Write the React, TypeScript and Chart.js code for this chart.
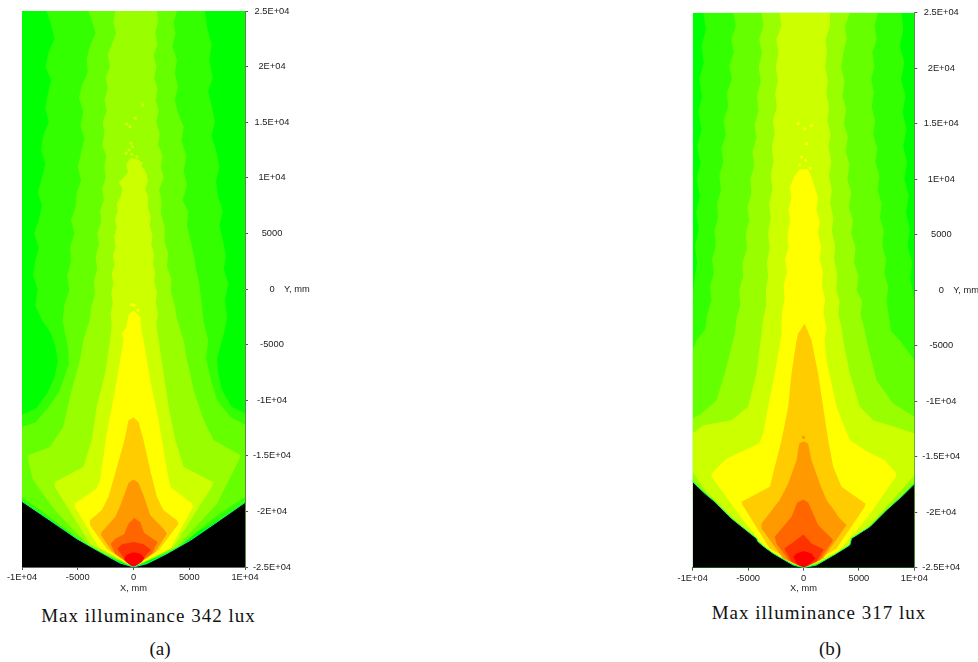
import React, { useEffect, useRef } from "react";
import { Chart, registerables } from "chart.js";

Chart.register(...registerables);

type P = [number, number];

const xTickValues = [-10000, -5000, 0, 5000, 10000];
const xTickLabels = ["-1E+04", "-5000", "0", "5000", "1E+04"];
const yTickValues = [25000, 20000, 15000, 10000, 5000, 0, -5000, -10000, -15000, -20000, -25000];
const yTickLabels = ["2.5E+04", "2E+04", "1.5E+04", "1E+04", "5000", "0", "-5000", "-1E+04", "-1.5E+04", "-2E+04", "-2.5E+04"];

const bandColors = ["#33ff00", "#66ff00", "#99ff00", "#ccff00", "#ffff00", "#ffcc00", "#ff9900", "#ff6600", "#ff3300", "#ff0000"];

const plotRect: P[] = [[-10000, 25000], [10000, 25000], [10000, -25000], [-10000, -25000]];

// Panel (a) contours, x and y in mm
const a33: P[] = [[-7800, 25000], [-7400, 23800], [-7100, 22500], [-7600, 21300], [-7900, 20000], [-7400, 18800], [-7700, 17500], [-7900, 16200], [-7600, 15000], [-8100, 13800], [-8300, 12500], [-7900, 11300], [-8200, 10000], [-8600, 8700], [-8200, 7500], [-8500, 6200], [-8900, 5000], [-8500, 3700], [-8850, 2400], [-9000, 1200], [-8600, 0], [-8800, -1500], [-8200, -2800], [-7400, -4000], [-7000, -5200], [-6800, -6500], [-7100, -8000], [-7700, -9300], [-8700, -10700], [-10000, -11300], [-10000, -19500], [0, -25000], [10000, -19500], [10000, -11200], [8800, -10600], [7900, -9000], [7600, -7500], [7500, -6200], [8100, -4000], [8400, -2500], [8200, -1000], [8500, 500], [8100, 1800], [8300, 3000], [8000, 4400], [7700, 5700], [8000, 7000], [7600, 8300], [7400, 9700], [7700, 11000], [7400, 12500], [7000, 13800], [7300, 15000], [7000, 16500], [6700, 17800], [7100, 19000], [6800, 20500], [7000, 22000], [6600, 23500], [6400, 25000]];
const a66: P[] = [[-4050, 25000], [-3700, 24000], [-3400, 23000], [-3900, 21900], [-4200, 20700], [-4100, 19500], [-4600, 18400], [-4900, 17200], [-4500, 16000], [-4750, 14700], [-4400, 13500], [-4700, 12300], [-5000, 11000], [-4700, 9800], [-5100, 8600], [-5200, 7400], [-5600, 6200], [-5300, 5000], [-5700, 3800], [-5600, 2500], [-5950, 1200], [-5750, -100], [-6200, -1400], [-6350, -2800], [-6100, -4200], [-5850, -5400], [-5800, -6800], [-6300, -8200], [-6700, -9300], [-7600, -10600], [-8800, -12000], [-10000, -12400], [-10000, -18700], [-7500, -20500], [-3900, -23350], [0, -25000], [3900, -23350], [7500, -20350], [10000, -18700], [10000, -12200], [8700, -11500], [7500, -10000], [6900, -8000], [6500, -6200], [6700, -4600], [6300, -3000], [6100, -1300], [5900, 500], [5600, 1800], [5400, 3100], [5100, 4400], [4800, 5700], [4900, 6900], [4400, 8000], [4800, 9300], [4500, 10600], [4750, 12000], [4300, 13300], [4500, 14600], [4000, 15800], [3700, 17000], [4000, 18200], [3700, 19400], [3900, 20600], [3500, 21800], [3750, 23000], [3600, 24000], [3900, 25000]];
const a99: P[] = [[-1650, 25000], [-1800, 24000], [-1560, 23000], [-1950, 22000], [-2300, 21000], [-2100, 20000], [-2500, 19000], [-2300, 18000], [-2600, 17000], [-2400, 16000], [-2750, 15000], [-2600, 14000], [-2800, 13000], [-2450, 12000], [-2600, 11000], [-2500, 10000], [-2800, 9000], [-2650, 8000], [-3000, 7000], [-2900, 6000], [-3250, 5000], [-3100, 4000], [-3400, 2900], [-3250, 1800], [-3550, 700], [-3450, -500], [-3800, -1600], [-3900, -2700], [-4500, -4600], [-4800, -6400], [-5550, -9100], [-6300, -12400], [-7500, -14200], [-9450, -14950], [-9450, -15400], [-9000, -17200], [-7050, -19900], [-3900, -23200], [0, -25000], [3900, -23200], [7500, -19300], [9450, -15400], [9600, -14950], [7200, -13600], [6300, -11800], [5400, -9100], [4800, -6400], [4500, -4600], [3900, -2700], [3700, -1500], [3350, -300], [3400, 900], [3000, 2000], [3100, 3200], [2750, 4400], [2800, 5600], [2450, 6800], [2500, 8000], [2300, 9000], [2700, 10000], [2450, 11000], [2600, 12000], [2200, 13000], [2350, 14000], [2050, 15000], [2250, 16000], [2000, 17000], [2150, 18000], [1850, 19000], [2050, 20000], [1800, 21000], [2150, 22000], [1950, 23000], [2200, 24000], [2100, 25000]];
const aCC: P[] = [[-250, 11800], [-650, 11200], [-500, 10500], [-900, 10000], [-1300, 9600], [-1000, 9000], [-1150, 8300], [-1500, 7700], [-1400, 7000], [-1650, 6300], [-1500, 5500], [-1750, 4700], [-1600, 3900], [-1850, 3000], [-1700, 2200], [-1950, 1400], [-1800, 500], [-2000, -400], [-1850, -1300], [-2050, -2200], [-1950, -3200], [-2100, -4600], [-2550, -7600], [-3300, -10600], [-3750, -13600], [-4500, -16000], [-7050, -17350], [-7050, -17800], [-3900, -22900], [0, -25000], [3600, -23200], [7110, -17650], [7110, -17350], [4500, -16000], [3750, -13600], [3150, -10600], [2700, -7600], [2250, -4600], [2050, -3200], [2200, -2200], [2000, -1200], [2100, -300], [1850, 600], [1950, 1500], [1750, 2300], [1850, 3100], [1600, 4000], [1700, 4800], [1450, 5700], [1550, 6500], [1250, 7400], [1300, 8300], [1050, 9000], [1300, 9700], [1150, 10400], [750, 11000], [550, 11600]];
const aFF: P[] = [[0, -1900], [-450, -2340], [-660, -3540], [-1050, -3990], [-900, -4600], [-1650, -9100], [-2400, -13000], [-3000, -17200], [-3300, -17950], [-5250, -19300], [-5250, -19600], [-3150, -23200], [0, -25000], [3300, -23350], [5340, -19600], [5250, -19300], [3300, -17800], [3000, -16300], [2250, -11800], [1500, -8200], [900, -4600], [750, -3990], [600, -2490]];
const aFC: P[] = [[0, -11560], [-450, -11800], [-750, -13300], [-1140, -14800], [-1650, -16600], [-2250, -18700], [-2850, -19900], [-3900, -20800], [-3900, -21250], [-2400, -23350], [0, -25000], [2250, -23500], [4050, -21100], [3900, -20800], [2700, -19900], [2100, -18700], [1500, -16300], [900, -13600], [450, -11950]];
const aF9: P[] = [[0, -17140], [-450, -17440], [-900, -18700], [-1350, -19900], [-1650, -20500], [-2850, -21850], [-2910, -22150], [-1950, -23560], [0, -25000], [1950, -23650], [3000, -22000], [2700, -21550], [1500, -20350], [900, -18550], [450, -17440]];
const aF6: P[] = [[60, -20590], [-450, -21100], [-840, -22060], [-1650, -22450], [-2040, -22900], [-1650, -23800], [0, -25000], [1650, -23800], [2160, -22750], [1500, -22300], [960, -21940], [600, -20950]];
const aF3: P[] = [[-1440, -23350], [-1050, -22960], [0, -22750], [900, -22960], [1560, -23440], [750, -24400], [0, -25000], [-750, -24400]];
const aF0: P[] = [[-840, -24250], [-600, -23890], [0, -23680], [600, -23800], [990, -24160], [750, -24550], [150, -24940], [-150, -24940], [-660, -24550]];
const aEdgeLeft: P[] = [[-10000, -19100], [-7500, -20800], [-5100, -22450], [-3000, -23650], [-1200, -24650], [0, -25000]];
const aEdgeRight: P[] = [[10000, -19200], [7500, -20950], [5100, -22600], [3000, -23800], [1200, -24700], [0, -25000]];
const aSpecksCC: P[] = [[840, 16560], [-600, 14850], [150, 15360], [-300, 14600], [-240, 13110], [-100, 12800], [-660, 12210], [-400, 12500], [-150, 12100], [300, 11900], [700, 11300], [900, 10700]];
const aSpecksFF: P[] = [[-150, -1400], [50, -1450], [400, -1900]];

// Panel (b) contours, x and y in mm
const b33: P[] = [[-9050, 25000], [-8800, 23500], [-9200, 22000], [-9000, 20500], [-9400, 19000], [-9150, 17500], [-9500, 16000], [-9200, 14500], [-9600, 13000], [-9300, 11500], [-9650, 10000], [-9350, 8500], [-9700, 7000], [-9450, 5500], [-9800, 4000], [-9600, 2500], [-9850, 1000], [-10000, -900], [-10000, -19000], [0, -25000], [10000, -19000], [10000, -900], [9650, 1000], [9800, 2500], [9400, 4000], [9600, 5500], [9250, 7000], [9500, 8500], [9100, 10000], [9350, 11500], [9000, 13000], [9300, 14500], [8950, 16000], [9200, 17500], [8800, 19000], [9100, 20500], [8700, 22000], [9000, 23500], [8840, 25000]];
const b66: P[] = [[-6350, 25000], [-6100, 23800], [-6500, 22600], [-6300, 21400], [-6700, 20200], [-6450, 19000], [-6900, 17800], [-6800, 16500], [-7200, 15300], [-7000, 14000], [-7400, 12800], [-7250, 11500], [-7600, 10300], [-7450, 9000], [-7800, 7800], [-7700, 6500], [-8050, 5300], [-7900, 4000], [-8250, 2800], [-8100, 1500], [-8450, 300], [-8300, -900], [-8700, -2200], [-8850, -3500], [-9650, -4510], [-10000, -5400], [-10000, -17300], [-4240, -22400], [0, -25000], [4330, -22400], [10000, -17500], [10000, -6300], [8690, -4510], [7900, -3700], [7700, -2300], [7500, -1000], [7650, 300], [7300, 1500], [7450, 2800], [7100, 4000], [7250, 5300], [6900, 6500], [7050, 7800], [6700, 9000], [6850, 10300], [6500, 11500], [6650, 12800], [6300, 14000], [6450, 15300], [6150, 16500], [6350, 17800], [6100, 19000], [6400, 20200], [6200, 21400], [6600, 22600], [6400, 23800], [6740, 25000]];
const b99: P[] = [[-3790, 25000], [-3600, 23800], [-4000, 22600], [-3750, 21400], [-4050, 20100], [-3850, 18800], [-4200, 17500], [-4050, 16200], [-4400, 14900], [-4250, 13700], [-4600, 12500], [-4450, 11200], [-4800, 10000], [-4700, 8800], [-5050, 7500], [-4900, 6300], [-5200, 5100], [-5100, 3800], [-5500, 2500], [-5450, 1200], [-5800, 0], [-5700, -1300], [-6050, -2600], [-6200, -3900], [-7100, -7510], [-7850, -9910], [-9200, -11110], [-10000, -11560], [-10000, -17110], [-8900, -18250], [-6500, -20560], [-3300, -23800], [0, -25000], [3280, -24160], [6440, -21160], [10000, -17260], [10000, -11410], [8090, -10210], [6590, -8110], [5690, -4510], [5500, -3500], [5150, -2200], [5300, -1000], [4800, 0], [4950, 1300], [4550, 2500], [4700, 3800], [4300, 5100], [4450, 6300], [4100, 7500], [4300, 8800], [3950, 10000], [4150, 11300], [3800, 12500], [4000, 13800], [3650, 15000], [3850, 16300], [3500, 17500], [3700, 18800], [3400, 20100], [3600, 21400], [3900, 22600], [3750, 23800], [4180, 25000]];
const bCC: P[] = [[-2140, 25000], [-2000, 23800], [-2440, 22600], [-2250, 21400], [-2500, 20100], [-2300, 18900], [-2550, 17700], [-2400, 16500], [-2750, 15300], [-2600, 14100], [-2850, 12900], [-2700, 11600], [-2950, 10400], [-2800, 9100], [-3100, 7800], [-2950, 6500], [-3200, 5100], [-3050, 3800], [-3300, 2500], [-3200, 1200], [-3400, 0], [-3350, -1300], [-3650, -2600], [-3790, -3900], [-4240, -7510], [-5000, -10510], [-6500, -11710], [-9050, -12160], [-10000, -12910], [-10000, -16360], [-8900, -18010], [-6500, -20410], [-3190, -23860], [0, -25000], [3130, -23860], [6290, -20860], [10000, -16660], [10000, -12910], [8690, -12460], [6290, -11710], [5080, -10510], [4180, -7510], [3580, -4510], [3450, -3400], [3150, -2200], [3250, -1000], [2950, 200], [3050, 1500], [2750, 2800], [2850, 4000], [2550, 5300], [2700, 6500], [2400, 7800], [2550, 9000], [2300, 10300], [2500, 11600], [2250, 12900], [2450, 14100], [2150, 15300], [2300, 16500], [2050, 17700], [2200, 18900], [1950, 20100], [2100, 21400], [2000, 22600], [2400, 23800], [2380, 25000]];
const bFF: P[] = [[-300, 10900], [-800, 10300], [-1230, 9300], [-1100, 8300], [-1350, 7300], [-1200, 6200], [-1450, 5100], [-1350, 3900], [-1650, 2800], [-1500, 1600], [-1800, 400], [-1700, -800], [-1950, -2000], [-1980, -3900], [-2590, -7510], [-3190, -10510], [-3640, -12910], [-4000, -13800], [-5500, -14500], [-7000, -15200], [-8300, -16510], [-8300, -16810], [-5440, -20710], [-3040, -23710], [0, -25000], [3130, -23560], [5840, -20410], [8330, -16810], [8390, -16510], [7300, -15300], [5700, -14500], [4180, -13510], [2980, -10510], [2080, -6300], [1900, -4510], [2080, -3500], [1800, -2000], [1950, -800], [1650, 400], [1750, 1600], [1450, 2800], [1600, 3900], [1300, 5100], [1450, 6200], [1150, 7300], [1300, 8300], [1000, 9300], [750, 10100], [400, 10900]];
const bFC: P[] = [[100, -3000], [-480, -3900], [-630, -4510], [-1080, -7510], [-1380, -10510], [-1980, -13510], [-2590, -15910], [-3040, -17710], [-5590, -19060], [-5500, -19360], [-3040, -23260], [0, -25000], [2980, -23260], [5530, -19510], [5590, -19210], [3430, -17710], [2680, -15910], [2230, -13510], [1770, -10510], [1320, -7510], [720, -4510], [480, -3900]];
const bF9: P[] = [[0, -13600], [-390, -13810], [-630, -15310], [-1380, -17410], [-2140, -18910], [-3790, -21010], [-3790, -21460], [-1830, -24160], [0, -25000], [1770, -24160], [3880, -21160], [3280, -20560], [2080, -18910], [1470, -17410], [720, -15310], [420, -13810]];
const bF6: P[] = [[0, -18850], [-570, -19120], [-1080, -20410], [-2590, -22210], [-2440, -22810], [-1380, -24310], [0, -25000], [1470, -24310], [2680, -22510], [1320, -21160], [720, -19810], [420, -19120]];
const bF3: P[] = [[-1740, -23260], [-1080, -22810], [0, -22000], [720, -22810], [1830, -23350], [1170, -24460], [0, -25000], [-1080, -24460]];
const bF0: P[] = [[-930, -24010], [-630, -23710], [0, -23500], [720, -23710], [1080, -24160], [570, -24670], [0, -25000], [-570, -24670]];
const bEdgeLeft: P[] = [[-10000, -17260], [-8900, -18310], [-8000, -19060], [-6500, -20560], [-4240, -22360], [-4100, -22660], [-3640, -23050], [-2740, -23710], [-930, -24760], [0, -25000]];
const bEdgeRight: P[] = [[10000, -17470], [9000, -18460], [7490, -19810], [5990, -21310], [4330, -22360], [4180, -22960], [2980, -23710], [1170, -24760], [0, -25000]];
const bSpecksFF: P[] = [[120, 14550], [-480, 15000], [720, 14850], [270, 13200], [-180, 12000], [-330, 11300], [200, 11700], [600, 11000]];
const bSpecksF9: P[] = [[0, -13250]];

const panelA = { bands: [a33, a66, a99, aCC, aFF, aFC, aF9, aF6, aF3, aF0], left: aEdgeLeft, right: aEdgeRight, specks: [{ pts: aSpecksCC, color: "#ccff00" }, { pts: aSpecksFF, color: "#ffff00" }] };
const panelB = { bands: [b33, b66, b99, bCC, bFF, bFC, bF9, bF6, bF3, bF0], left: bEdgeLeft, right: bEdgeRight, specks: [{ pts: bSpecksFF, color: "#ffff00" }, { pts: bSpecksF9, color: "#ff9900" }] };

const toXY = (pts: P[]) => pts.map(([x, y]) => ({ x, y }));
const shape = (pts: P[], color: string) => ({
  data: toXY(pts), showLine: true, fill: "shape", backgroundColor: color, borderWidth: 0,
  borderColor: color, pointRadius: 0, tension: 0,
});
const edge = (pts: P[]) => ({
  data: toXY(pts), showLine: true, fill: false, borderColor: "#00ff88", borderWidth: 1, pointRadius: 0, tension: 0,
});
const specks = (pts: P[], color: string) => ({
  data: toXY(pts), showLine: false, pointRadius: 1.6, pointBorderWidth: 0, pointBackgroundColor: color, pointStyle: "circle",
});

const FONT = { family: "'Liberation Sans', Arial, sans-serif", size: 9.3 };

function Panel({ panel, left, width, padLeft, padTop, axisWidth }: any) {
  const ref = useRef<HTMLCanvasElement>(null);
  useEffect(() => {
    const H = 596;
    const bottomPx = padTop === 11 ? 567 : 567.7;
    const yLabelPlugin = {
      id: "yLabel",
      afterDraw(chart: any) {
        const { ctx, scales } = chart;
        ctx.save();
        ctx.font = `${FONT.size}px ${FONT.family}`;
        ctx.fillStyle = "#222";
        ctx.textBaseline = "middle";
        ctx.textAlign = "left";
        ctx.fillText("Y, mm", scales.y.left + 39, scales.y.getPixelForValue(0));
        ctx.restore();
      },
    };
    const bandSets = panel.bands.map((b: P[], i: number) => shape(b, bandColors[i]));
    const chart = new Chart(ref.current!, {
      type: "scatter",
      data: {
        datasets: [
          edge(panel.left),
          edge(panel.right),
          shape([...panel.left, [-10000, -25000]], "#000000"),
          shape([...panel.right, [10000, -25000]], "#000000"),
          ...panel.specks.map((s: any) => specks(s.pts, s.color)),
          ...bandSets.reverse(),
          shape(plotRect, "#00ff00"),
        ],
      } as any,
      plugins: [yLabelPlugin],
      options: {
        animation: false,
        responsive: false,
        layout: { padding: { left: padLeft, top: padTop, right: 0, bottom: 0 } },
        plugins: { legend: { display: false }, tooltip: { enabled: false } },
        scales: {
          x: {
            type: "linear", min: -10000, max: 10000,
            afterFit(s: any) { s.height = H - bottomPx; },
            afterBuildTicks(s: any) { s.ticks = xTickValues.map((value) => ({ value })); },
            border: { color: "#666", width: 1 },
            grid: { drawOnChartArea: false, tickLength: 3, color: "#555" },
            ticks: {
              font: FONT, color: "#222", padding: 2, maxRotation: 0, autoSkip: false,
              callback: (v: any) => xTickLabels[xTickValues.indexOf(Number(v))],
            },
            title: { display: true, text: "X, mm", font: FONT, color: "#222", padding: { top: 0, bottom: 2 } },
          },
          y: {
            type: "linear", position: "right", min: -25000, max: 25000,
            afterFit(s: any) { s.width = axisWidth; },
            afterBuildTicks(s: any) { s.ticks = yTickValues.map((value) => ({ value })); },
            border: { color: "#5f8a3c", width: 1 },
            grid: { drawOnChartArea: false, tickLength: 3, color: "#555" },
            ticks: {
              font: FONT, color: "#222", padding: 5, crossAlign: "center", autoSkip: false,
              callback: (v: any) => yTickLabels[yTickValues.indexOf(Number(v))],
            },
          },
        },
      } as any,
    });
    return () => chart.destroy();
  }, []);
  return <canvas ref={ref} width={width} height={596} style={{ position: "absolute", left, top: 0, width, height: 596, display: "block", filter: "blur(0.45px)" }} />;
}

const captionStyle: React.CSSProperties = {
  position: "absolute", transform: "translate(-50%, -50%)", whiteSpace: "nowrap",
  fontFamily: "'Liberation Serif', serif", color: "#111", fontSize: 19,
};

export default function App() {
  return (
    <div style={{ position: "absolute", left: 0, top: 0, width: 978, height: 662, background: "#fff", overflow: "hidden" }}>
      <Panel panel={panelA} left={0} width={330} padLeft={22} padTop={11} axisWidth={85} />
      <Panel panel={panelB} left={660} width={318} padLeft={32.7} padTop={12.7} axisWidth={63.7} />
      <div style={{ ...captionStyle, left: 148.5, top: 616, letterSpacing: 1 }}>Max illuminance 342 lux</div>
      <div style={{ ...captionStyle, left: 160, top: 649 }}>(a)</div>
      <div style={{ ...captionStyle, left: 819, top: 613, letterSpacing: 1 }}>Max illuminance 317 lux</div>
      <div style={{ ...captionStyle, left: 830, top: 649 }}>(b)</div>
    </div>
  );
}
